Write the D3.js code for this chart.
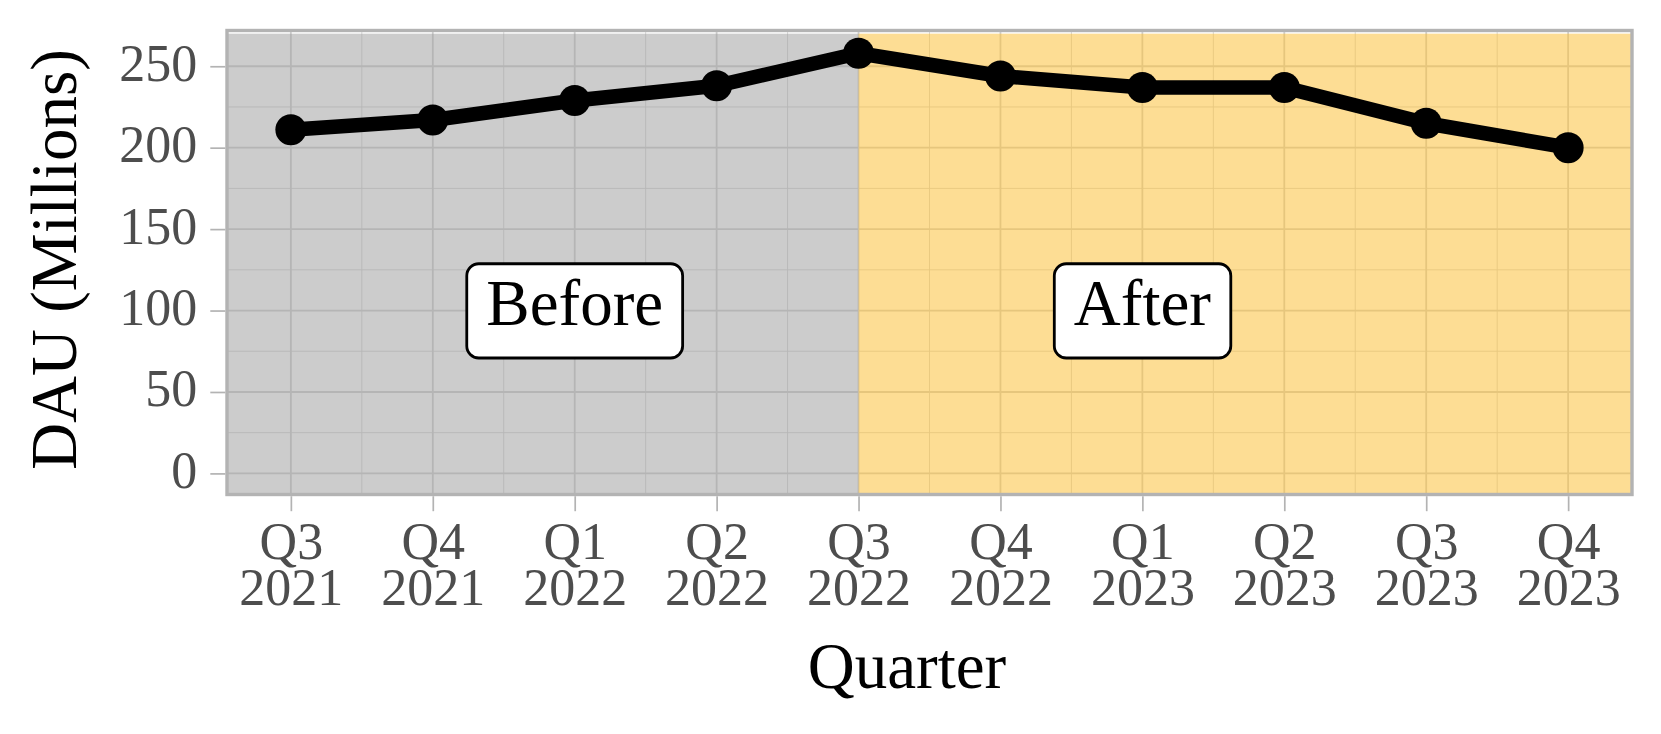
<!DOCTYPE html>
<html>
<head>
<meta charset="utf-8">
<script src="https://cdn.jsdelivr.net/npm/d3@7"></script>
<style>
  body { margin: 0; background: #ffffff; }
  text { font-family: "Liberation Serif", "Times New Roman", serif; }
</style>
</head>
<body>
<script>
var w = 1661;
var h = 734;

// data
var quarters = ["Q3", "Q4", "Q1", "Q2", "Q3", "Q4", "Q1", "Q2", "Q3", "Q4"];
var years = ["2021", "2021", "2022", "2022", "2022", "2022", "2023", "2023", "2023", "2023"];
var dau = [211, 217, 229, 238, 258, 244, 237, 237, 215, 200];
var yTicks = [0, 50, 100, 150, 200, 250];
var yMinor = [25, 75, 125, 175, 225];

// before / after shading
var periodNames = ["Before", "After"];
var periodLabelX = [3, 7];
var periodLabelY = 100;
var splitAt = 5;
var shadeTop = 270;

var idx = d3.range(1, dau.length + 1);

var x = d3.scaleLinear().domain([0.55, 10.45]).range([227, 1632]);
var y = d3.scaleLinear().domain([-12.95, 271.95]).range([494.5, 30.5]);

var px0 = x.range()[0], px1 = x.range()[1];
var py0 = y.range()[1], py1 = y.range()[0];

var svg = d3.select("body")
            .append("svg")
              .attr("width", w)
              .attr("height", h);

var panel = svg.append("g");

panel.append("rect")
  .attr("x", px0).attr("y", py0)
  .attr("width", px1 - px0).attr("height", py1 - py0)
  .attr("fill", "#ffffff");

// minor grid
panel.selectAll(".vminor")
  .data(d3.range(1.5, 10, 1))
  .enter()
  .append("line")
    .attr("x1", function(d) { return x(d); })
    .attr("x2", function(d) { return x(d); })
    .attr("y1", py0).attr("y2", py1)
    .attr("stroke", "#d4d4d4")
    .attr("stroke-width", 0.9);

panel.selectAll(".hminor")
  .data(yMinor)
  .enter()
  .append("line")
    .attr("x1", px0).attr("x2", px1)
    .attr("y1", function(d) { return y(d); })
    .attr("y2", function(d) { return y(d); })
    .attr("stroke", "#d4d4d4")
    .attr("stroke-width", 0.9);

// major grid
panel.selectAll(".vmajor")
  .data(idx)
  .enter()
  .append("line")
    .attr("x1", function(d) { return x(d); })
    .attr("x2", function(d) { return x(d); })
    .attr("y1", py0).attr("y2", py1)
    .attr("stroke", "#d0d0d0")
    .attr("stroke-width", 1.8);

panel.selectAll(".hmajor")
  .data(yTicks)
  .enter()
  .append("line")
    .attr("x1", px0).attr("x2", px1)
    .attr("y1", function(d) { return y(d); })
    .attr("y2", function(d) { return y(d); })
    .attr("stroke", "#d0d0d0")
    .attr("stroke-width", 1.8);

// shaded periods (semi transparent over the grid)
panel.append("rect")
  .attr("x", px0).attr("y", y(shadeTop))
  .attr("width", x(splitAt) - px0)
  .attr("height", py1 - y(shadeTop))
  .attr("fill", "#999999")
  .attr("fill-opacity", 0.5);

panel.append("rect")
  .attr("x", x(splitAt)).attr("y", y(shadeTop))
  .attr("width", px1 - x(splitAt))
  .attr("height", py1 - y(shadeTop))
  .attr("fill", "#fbbb29")
  .attr("fill-opacity", 0.5);

// line and points
var line = d3.line()
  .x(function(d, i) { return x(i + 1); })
  .y(function(d) { return y(d); });

panel.append("path")
  .datum(dau)
  .attr("d", line)
  .attr("fill", "none")
  .attr("stroke", "#000000")
  .attr("stroke-width", 14.5)
  .attr("stroke-linejoin", "round");

panel.selectAll("circle")
  .data(dau)
  .enter()
  .append("circle")
    .attr("cx", function(d, i) { return x(i + 1); })
    .attr("cy", function(d) { return y(d); })
    .attr("r", 15.5)
    .attr("fill", "#000000");

// labels
var fs = 65;
var labels = panel.selectAll(".lab")
  .data(periodNames)
  .enter()
  .append("g")
    .attr("transform", function(d, i) {
      return "translate(" + x(periodLabelX[i]) + "," + y(periodLabelY) + ")";
    });

labels.append("text")
  .text(function(d) { return d; })
  .attr("text-anchor", "middle")
  .attr("y", fs * 0.23)
  .attr("font-size", fs + "px")
  .attr("fill", "#000000");

labels.each(function() {
  var g = d3.select(this);
  var bb = g.select("text").node().getBBox();
  g.insert("rect", "text")
    .attr("x", bb.x - 19.5)
    .attr("width", bb.width + 39)
    .attr("y", -fs * 0.72)
    .attr("height", fs * 1.45)
    .attr("rx", 12).attr("ry", 12)
    .attr("fill", "#ffffff")
    .attr("stroke", "#000000")
    .attr("stroke-width", 2.8);
});

// panel border
svg.append("rect")
  .attr("x", px0).attr("y", py0)
  .attr("width", px1 - px0).attr("height", py1 - py0)
  .attr("fill", "none")
  .attr("stroke", "#b3b3b3")
  .attr("stroke-width", 3.4);

// axes
var yAxis = svg.append("g")
  .attr("transform", "translate(" + (px0 - 1.7) + ",0)")
  .call(d3.axisLeft(y).tickValues(yTicks).tickSize(15).tickPadding(13));

var xAxis = svg.append("g")
  .attr("transform", "translate(0," + (py1 + 1.7) + ")")
  .call(d3.axisBottom(x).tickValues(idx).tickSize(15).tickFormat(""));

svg.selectAll(".domain").remove();
svg.selectAll(".tick line")
  .attr("stroke", "#b3b3b3")
  .attr("stroke-width", 1.7);

yAxis.selectAll("text")
  .attr("dy", null)
  .attr("y", 14)
  .attr("font-size", "52px")
  .attr("font-family", "Liberation Serif, serif")
  .attr("fill", "#4d4d4d");

xAxis.selectAll(".tick text").remove();
var xt = xAxis.selectAll(".tick")
  .append("text")
    .attr("text-anchor", "middle")
    .attr("font-size", "52px")
    .attr("font-family", "Liberation Serif, serif")
    .attr("fill", "#4d4d4d");

xt.append("tspan")
  .attr("x", 0).attr("y", 62.8)
  .text(function(d) { return quarters[d - 1]; });
xt.append("tspan")
  .attr("x", 0).attr("y", 108.8)
  .text(function(d) { return years[d - 1]; });

// axis titles
svg.append("text")
  .text("Quarter")
  .attr("x", 907)
  .attr("y", 688)
  .attr("text-anchor", "middle")
  .attr("font-size", "65px")
  .attr("fill", "#000000");

svg.append("text")
  .text("DAU (Millions)")
  .attr("transform", "translate(76," + ((py0 + py1) / 2 - 3) + ") rotate(-90)")
  .attr("text-anchor", "middle")
  .attr("font-size", "65px")
  .attr("fill", "#000000");
</script>
</body>
</html>
